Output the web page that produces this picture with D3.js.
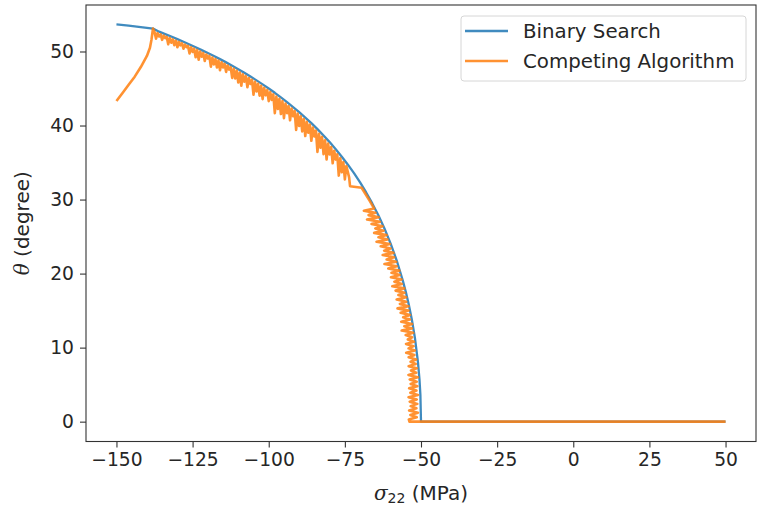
<!DOCTYPE html>
<html>
<head>
<meta charset="utf-8">
<script src="https://cdn.jsdelivr.net/npm/d3@7"></script>
<style>
  html, body { margin: 0; padding: 0; background: #fff; }
  svg { display: block; font-family: "DejaVu Sans", sans-serif; }
</style>
</head>
<body>
<svg id="chart" width="759" height="514"></svg>
<script>
// ---- data ----
const seriesNames = ["Binary Search", "Competing Algorithm"];
const xTicks = [-150, -125, -100, -75, -50, -25, 0, 25, 50];
const yTicks = [0, 10, 20, 30, 40, 50];

const binarySearch = [
  [-150, 53.65], [-146, 53.5], [-142, 53.3], [-138, 53.1], [-136, 52.68], [-134, 52.35],
  [-132, 52.02], [-130, 51.67], [-128, 51.32], [-126, 50.95], [-124, 50.58], [-122, 50.19],
  [-120, 49.8], [-118, 49.39], [-116, 48.97], [-114, 48.53], [-112, 48.08], [-110, 47.61],
  [-108, 47.12], [-106, 46.62], [-104, 46.1], [-102, 45.56], [-100, 45.0], [-98, 44.42],
  [-96, 43.8], [-94, 43.17], [-92, 42.5], [-90, 41.81], [-88, 41.08], [-86, 40.32],
  [-84, 39.51], [-82, 38.66], [-80, 37.76], [-78, 36.8], [-76, 35.79], [-74, 34.71],
  [-72, 33.56], [-70, 32.31], [-68, 30.96], [-66, 29.48], [-64, 27.87], [-62, 26.09],
  [-60, 24.09], [-58, 21.8], [-56, 19.09], [-55, 17.55], [-54, 15.8], [-53, 13.76],
  [-52, 11.31], [-51, 8.05], [-50.5, 5.71], [-50.2, 3.62], [-50, 0], [50, 0]
];

// competing algorithm: rising start, noisy band along the curve, step, noisy steep part, flat zero
const competingStart = [
  [-150, 43.3], [-148, 44.4], [-146, 45.5], [-144, 46.6], [-142, 47.9], [-140, 49.4],
  [-139, 50.5], [-138.5, 51.6], [-138.2, 52.5], [-138, 53.1]
];
const competingUpper = [
  [-137.5, 52.64], [-137, 51.74], [-136.5, 52.48], [-136, 52.02], [-135.5, 52.31], [-135, 51.57],
  [-134.5, 52.15], [-134, 51.80], [-133.5, 51.98], [-133, 50.97], [-132.5, 51.82], [-132, 51.19],
  [-131.5, 51.64], [-131, 50.85], [-130.5, 51.47], [-130, 50.57], [-129.5, 51.29], [-129, 50.83],
  [-128.5, 51.12], [-128, 50.38], [-127.5, 50.93], [-127, 50.58], [-126.5, 50.75], [-126, 49.74],
  [-125.5, 50.57], [-125, 49.94], [-124.5, 50.38], [-124, 49.23], [-123.5, 50.19], [-123, 48.89],
  [-122.5, 49.99], [-122, 49.29], [-121.5, 49.80], [-121, 48.72], [-120.5, 49.60], [-120, 49.05],
  [-119.5, 49.40], [-119, 47.95], [-118.5, 49.19], [-118, 48.26], [-117.5, 48.98], [-117, 47.83],
  [-116.5, 48.77], [-116, 47.47], [-115.5, 48.55], [-115, 47.85], [-114.5, 48.33], [-114, 47.25],
  [-113.5, 48.10], [-113, 47.55], [-112.5, 47.88], [-112, 46.43], [-111.5, 47.65], [-111, 46.35],
  [-110.5, 47.41], [-110, 45.81], [-109.5, 47.17], [-109, 45.37], [-108.5, 46.92], [-108, 45.92],
  [-107.5, 46.67], [-107, 45.17], [-106.5, 46.42], [-106, 45.62], [-105.5, 46.16], [-105, 44.16],
  [-104.5, 45.90], [-104, 44.60], [-103.5, 45.63], [-103, 44.03], [-102.5, 45.36], [-102, 43.56],
  [-101.5, 45.08], [-101, 44.08], [-100.5, 44.80], [-100, 43.30], [-99.5, 44.51], [-99, 43.46],
  [-98.5, 44.22], [-98, 41.67], [-97.5, 43.91], [-97, 42.23], [-96.5, 43.60], [-96, 41.55],
  [-95.5, 43.29], [-95, 40.99], [-94.5, 42.97], [-94, 41.67], [-93.5, 42.64], [-93, 40.71],
  [-92.5, 42.30], [-92, 41.25], [-91.5, 41.96], [-91, 39.41], [-90.5, 41.61], [-90, 39.93],
  [-89.5, 41.25], [-89, 39.20], [-88.5, 40.88], [-88, 38.58], [-87.5, 40.50], [-87, 39.02],
  [-86.5, 40.12], [-86, 37.94], [-85.5, 39.72], [-85, 38.52], [-84.5, 39.31], [-84, 36.43],
  [-83.5, 38.89], [-83, 36.99], [-82.5, 38.46], [-82, 36.14], [-81.5, 38.01], [-81, 35.41],
  [-80.5, 37.56], [-80, 36.08], [-79.5, 37.08], [-79, 34.90], [-78.5, 36.60], [-78, 35.40],
  [-77.5, 36.12], [-77, 33.24], [-76.5, 35.59], [-76, 33.69], [-75.5, 35.05], [-75, 32.73],
  [-74.5, 34.51]
];
const competingStep = [
  [-73.6, 33.0], [-73.3, 31.8], [-69.5, 31.6], [-66.8, 29.8]
];
const competingSteep = [
  [-65.42, 28.8], [-68.75, 28.5], [-64.98, 28.2], [-67.22, 27.9], [-63.88, 27.6], [-67.73, 27.3],
  [-63.48, 27.0], [-66.25, 26.7], [-62.63, 26.4], [-65.00, 26.1], [-62.29, 25.8], [-65.38, 25.5],
  [-61.27, 25.2], [-63.97, 24.9], [-60.99, 24.6], [-64.60, 24.3], [-60.21, 24.0], [-63.24, 23.7],
  [-59.97, 23.4], [-62.10, 23.1], [-59.04, 22.8], [-62.59, 22.5], [-58.83, 22.2], [-61.28, 21.9],
  [-58.14, 21.6], [-62.01, 21.3], [-57.97, 21.0], [-60.75, 20.7], [-57.12, 20.4], [-59.70, 20.1],
  [-56.98, 19.8], [-59.88, 19.5], [-56.37, 19.2], [-58.75, 18.9], [-56.27, 18.6], [-59.44, 18.3],
  [-55.48, 18.0], [-58.34, 17.7], [-55.41, 17.4], [-57.43, 17.1], [-54.86, 16.8], [-57.99, 16.5],
  [-54.82, 16.2], [-56.94, 15.9], [-54.10, 15.6], [-57.71, 15.3], [-54.09, 15.0], [-56.69, 14.7],
  [-53.60, 14.4], [-55.86, 14.1], [-53.62, 13.8], [-56.49, 13.5], [-52.95, 13.2], [-55.50, 12.9],
  [-53.00, 12.6], [-56.34, 12.3], [-52.56, 12.0], [-55.03, 11.7], [-52.94, 11.4], [-54.33, 11.1],
  [-52.32, 10.8], [-54.92, 10.5], [-52.42, 10.2], [-54.08, 9.9], [-52.03, 9.6], [-54.86, 9.3],
  [-52.15, 9.0], [-54.05, 8.7], [-51.59, 8.4], [-53.42, 8.1], [-51.74, 7.8], [-54.07, 7.5],
  [-51.40, 7.2], [-53.29, 6.9], [-51.57, 6.6], [-54.13, 6.3], [-51.05, 6.0], [-53.7, 5.7],
  [-51.4, 5.4], [-53.4, 5.1], [-51.2, 4.8], [-53.9, 4.5], [-51.5, 4.2], [-53.5, 3.9],
  [-51.0, 3.6], [-54.1, 3.3], [-51.4, 3.0], [-53.7, 2.7], [-51.2, 2.4], [-53.4, 2.1],
  [-51.5, 1.8], [-53.9, 1.5], [-51.0, 1.2], [-53.5, 0.9], [-51.4, 0.6], [-54.0, 0.3],
  [-53.8, 0]
];
const competingFlat = [[50, 0]];

const colors = ["#1f77b4", "#ff7f0e"];

// ---- layout ----
const svg = d3.select("#chart");
const pLeft = 86, pRight = 756, pTop = 5, pBottom = 441.5;
const x = d3.scaleLinear().domain([-160, 60]).range([pLeft, pRight]);
const y = d3.scaleLinear().domain([-2.68, 56.28]).range([pBottom, pTop]);
const textColor = "#262626";

svg.append("defs").append("clipPath").attr("id", "clip")
  .append("rect").attr("x", pLeft).attr("y", pTop)
  .attr("width", pRight - pLeft).attr("height", pBottom - pTop);

const line = d3.line().x(d => x(d[0])).y(d => y(d[1]));
const competing = [].concat(competingStart, competingUpper, competingStep, competingSteep, competingFlat);

const widths = [2.3, 2.6];
const plot = svg.append("g").attr("clip-path", "url(#clip)");
[binarySearch, competing].forEach((s, i) => {
  plot.append("path").datum(s)
    .attr("d", line)
    .attr("fill", "none")
    .attr("stroke", colors[i])
    .attr("stroke-opacity", 0.85)
    .attr("stroke-width", widths[i])
    .attr("stroke-linejoin", "round")
    .attr("stroke-linecap", "butt");
});

// axes
const xAxis = svg.append("g").attr("transform", `translate(0,${pBottom})`)
  .call(d3.axisBottom(x).tickValues(xTicks).tickSizeOuter(0).tickSizeInner(6).tickPadding(5));
const yAxis = svg.append("g").attr("transform", `translate(${pLeft},0)`)
  .call(d3.axisLeft(y).tickValues(yTicks).tickSizeOuter(0).tickSizeInner(6).tickPadding(6));
[xAxis, yAxis].forEach(g => {
  g.select(".domain").remove();
  g.selectAll(".tick line").attr("stroke", "#333").attr("stroke-width", 1.1);
  g.selectAll(".tick text").attr("fill", textColor).attr("font-size", 18.7)
    .attr("font-family", "DejaVu Sans");
});

// frame
svg.append("rect").attr("x", pLeft).attr("y", pTop)
  .attr("width", pRight - pLeft).attr("height", pBottom - pTop)
  .attr("fill", "none").attr("stroke", "#333").attr("stroke-width", 1.1);

// axis labels
const xl = svg.append("text").attr("x", (pLeft + pRight) / 2).attr("y", 500)
  .attr("text-anchor", "middle").attr("fill", textColor).attr("font-size", 20);
xl.append("tspan").attr("font-style", "italic").attr("font-family", "DejaVu Serif").text("σ");
xl.append("tspan").attr("font-size", 14).attr("dy", 3).text("22");
xl.append("tspan").attr("dy", -3).text(" (MPa)");

const yl = svg.append("text")
  .attr("transform", `translate(29,${(pTop + pBottom) / 2}) rotate(-90)`)
  .attr("text-anchor", "middle").attr("fill", textColor).attr("font-size", 20);
yl.append("tspan").attr("font-style", "italic").attr("font-family", "DejaVu Serif").text("θ");
yl.append("tspan").text(" (degree)");

// legend
const lg = svg.append("g");
lg.append("rect").attr("x", 461).attr("y", 16).attr("width", 285).attr("height", 65)
  .attr("rx", 3).attr("fill", "#fff").attr("fill-opacity", 0.8)
  .attr("stroke", "#d6d6d6").attr("stroke-width", 1);
seriesNames.forEach((name, i) => {
  const cy = 31 + i * 30;
  lg.append("line").attr("x1", 465).attr("x2", 508).attr("y1", cy).attr("y2", cy)
    .attr("stroke", colors[i]).attr("stroke-opacity", 0.85).attr("stroke-width", 2.3);
  lg.append("text").attr("x", 523).attr("y", cy + 7).attr("fill", textColor)
    .attr("font-size", 19.8).text(name);
});
</script>
</body>
</html>
